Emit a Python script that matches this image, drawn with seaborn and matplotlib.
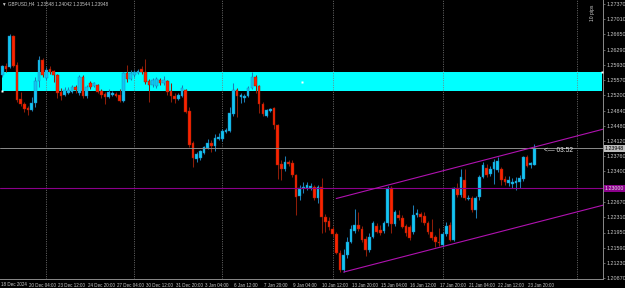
import numpy as np
import pandas as pd
import matplotlib
matplotlib.use("Agg")
import matplotlib.pyplot as plt
import matplotlib.transforms as mtransforms
from matplotlib.patches import Rectangle
import seaborn as sns

# ---------------- data (GBPUSD H4) ----------------
opens = [1.2569, 1.2590, 1.2588, 1.2661, 1.2592, 1.2512, 1.2500, 1.2490, 1.2486, 1.2502,
         1.2554, 1.2604, 1.2561, 1.2583, 1.2578, 1.2569, 1.2528, 1.2521, 1.2526, 1.2528,
         1.2540, 1.2526, 1.2564, 1.2519, 1.2550, 1.2543, 1.2545, 1.2531, 1.2524, 1.2517,
         1.2521, 1.2524, 1.2521, 1.2507, 1.2573, 1.2559, 1.2569, 1.2573, 1.2583, 1.2576,
         1.2554, 1.2545, 1.2543, 1.2557, 1.2550, 1.2554, 1.2531, 1.2519, 1.2512, 1.2519,
         1.2533, 1.2483, 1.2407, 1.2369, 1.2372, 1.2384, 1.2396, 1.2407, 1.2400, 1.2417,
         1.2417, 1.2433, 1.2436, 1.2476, 1.2533, 1.2517, 1.2514, 1.2519, 1.2538, 1.2564,
         1.2543, 1.2500, 1.2471, 1.2483, 1.2490, 1.2450, 1.2357, 1.2346, 1.2362, 1.2360,
         1.2331, 1.2282, 1.2301, 1.2301, 1.2301, 1.2303, 1.2277, 1.2303, 1.2232, 1.2222,
         1.2203, 1.2191, 1.2146, 1.2106, 1.2142, 1.2172, 1.2199, 1.2213, 1.2203, 1.2180,
         1.2154, 1.2184, 1.2210, 1.2201, 1.2199, 1.2218, 1.2301, 1.2215, 1.2237, 1.2229,
         1.2210, 1.2208, 1.2196, 1.2237, 1.2239, 1.2234, 1.2218, 1.2196, 1.2184, 1.2172,
         1.2165, 1.2191, 1.2213, 1.2177, 1.2301, 1.2284, 1.2320, 1.2274, 1.2277, 1.2248,
         1.2279, 1.2327, 1.2348, 1.2334, 1.2346, 1.2343, 1.2346, 1.2322, 1.2312, 1.2310,
         1.2312, 1.2315, 1.2322, 1.2374, 1.2355, 1.23548]
highs = [1.2592, 1.2597, 1.2666, 1.2664, 1.2599, 1.2528, 1.2505, 1.2495, 1.2517, 1.2564,
         1.2614, 1.2609, 1.2588, 1.2590, 1.2581, 1.2571, 1.2538, 1.2540, 1.2540, 1.2545,
         1.2545, 1.2569, 1.2569, 1.2545, 1.2554, 1.2552, 1.2547, 1.2535, 1.2528, 1.2535,
         1.2531, 1.2528, 1.2535, 1.2576, 1.2592, 1.2581, 1.2581, 1.2583, 1.2590, 1.2607,
         1.2559, 1.2561, 1.2564, 1.2561, 1.2566, 1.2557, 1.2550, 1.2526, 1.2526, 1.2545,
         1.2535, 1.2493, 1.2412, 1.2386, 1.2391, 1.2400, 1.2417, 1.2414, 1.2429, 1.2431,
         1.2440, 1.2443, 1.2493, 1.2550, 1.2538, 1.2526, 1.2524, 1.2543, 1.2576, 1.2569,
         1.2545, 1.2505, 1.2488, 1.2490, 1.2493, 1.2452, 1.2367, 1.2376, 1.2367, 1.2367,
         1.2334, 1.2308, 1.2315, 1.2315, 1.2312, 1.2308, 1.2308, 1.2324, 1.2239, 1.2232,
         1.2210, 1.2196, 1.2154, 1.2156, 1.2184, 1.2213, 1.2251, 1.2244, 1.2210, 1.2187,
         1.2194, 1.2222, 1.2218, 1.2213, 1.2222, 1.2305, 1.2305, 1.2248, 1.2248, 1.2237,
         1.2215, 1.2213, 1.2260, 1.2251, 1.2244, 1.2244, 1.2222, 1.2227, 1.2189, 1.2206,
         1.2196, 1.2220, 1.2220, 1.2303, 1.2312, 1.2346, 1.2346, 1.2284, 1.2282, 1.2282,
         1.2331, 1.2362, 1.2357, 1.2353, 1.2369, 1.2374, 1.2350, 1.2329, 1.2329, 1.2324,
         1.2327, 1.2331, 1.2376, 1.2379, 1.2362, 1.24042]
lows = [1.2564, 1.2576, 1.2585, 1.2588, 1.2505, 1.2495, 1.2481, 1.2474, 1.2483, 1.2493,
        1.2540, 1.2564, 1.2557, 1.2571, 1.2552, 1.2514, 1.2509, 1.2519, 1.2524, 1.2526,
        1.2526, 1.2521, 1.2514, 1.2514, 1.2535, 1.2540, 1.2526, 1.2514, 1.2500, 1.2514,
        1.2519, 1.2517, 1.2505, 1.2505, 1.2552, 1.2557, 1.2564, 1.2571, 1.2571, 1.2547,
        1.2505, 1.2540, 1.2538, 1.2545, 1.2545, 1.2521, 1.2505, 1.2502, 1.2509, 1.2517,
        1.2478, 1.2398, 1.2350, 1.2362, 1.2367, 1.2381, 1.2393, 1.2386, 1.2388, 1.2414,
        1.2412, 1.2431, 1.2433, 1.2471, 1.2469, 1.2502, 1.2505, 1.2517, 1.2535, 1.2526,
        1.2478, 1.2471, 1.2469, 1.2481, 1.2440, 1.2322, 1.2320, 1.2341, 1.2353, 1.2327,
        1.2237, 1.2272, 1.2289, 1.2296, 1.2296, 1.2272, 1.2265, 1.2194, 1.2196, 1.2201,
        1.2187, 1.2144, 1.2101, 1.2101, 1.2135, 1.2170, 1.2194, 1.2199, 1.2172, 1.2139,
        1.2149, 1.2182, 1.2194, 1.2189, 1.2194, 1.2210, 1.2194, 1.2210, 1.2225, 1.2206,
        1.2187, 1.2177, 1.2191, 1.2232, 1.2220, 1.2213, 1.2191, 1.2177, 1.2161, 1.2163,
        1.2161, 1.2187, 1.2175, 1.2175, 1.2279, 1.2279, 1.2272, 1.2272, 1.2244, 1.2229,
        1.2272, 1.2324, 1.2327, 1.2329, 1.2310, 1.2339, 1.2308, 1.2308, 1.2305, 1.2301,
        1.2296, 1.2301, 1.2317, 1.2350, 1.2348, 1.23544]
closes = [1.2590, 1.2583, 1.2661, 1.2590, 1.2509, 1.2500, 1.2488, 1.2486, 1.2502, 1.2554,
          1.2604, 1.2569, 1.2581, 1.2576, 1.2569, 1.2526, 1.2519, 1.2533, 1.2533, 1.2540,
          1.2533, 1.2564, 1.2519, 1.2540, 1.2540, 1.2550, 1.2528, 1.2521, 1.2517, 1.2528,
          1.2526, 1.2519, 1.2507, 1.2573, 1.2559, 1.2573, 1.2576, 1.2578, 1.2576, 1.2552,
          1.2545, 1.2557, 1.2559, 1.2550, 1.2557, 1.2528, 1.2519, 1.2512, 1.2521, 1.2538,
          1.2481, 1.2403, 1.2372, 1.2381, 1.2388, 1.2398, 1.2407, 1.2400, 1.2419, 1.2422,
          1.2436, 1.2438, 1.2478, 1.2533, 1.2519, 1.2521, 1.2519, 1.2538, 1.2564, 1.2543,
          1.2500, 1.2476, 1.2486, 1.2488, 1.2450, 1.2355, 1.2346, 1.2362, 1.2357, 1.2331,
          1.2279, 1.2301, 1.2303, 1.2308, 1.2305, 1.2277, 1.2303, 1.2232, 1.2220, 1.2208,
          1.2191, 1.2146, 1.2106, 1.2142, 1.2172, 1.2203, 1.2213, 1.2203, 1.2177, 1.2154,
          1.2184, 1.2218, 1.2196, 1.2194, 1.2218, 1.2301, 1.2215, 1.2244, 1.2229, 1.2208,
          1.2194, 1.2182, 1.2237, 1.2241, 1.2232, 1.2218, 1.2196, 1.2182, 1.2172, 1.2170,
          1.2191, 1.2210, 1.2177, 1.2301, 1.2284, 1.2327, 1.2277, 1.2277, 1.2248, 1.2277,
          1.2327, 1.2355, 1.2331, 1.2346, 1.2362, 1.2365, 1.2320, 1.2315, 1.2320, 1.2315,
          1.2317, 1.2324, 1.2374, 1.2353, 1.2360, 1.23948]

first_label = "18 Dec 2024"
time_labels = ["20 Dec 04:00", "23 Dec 12:00", "24 Dec 20:00", "27 Dec 04:00",
               "30 Dec 12:00", "31 Dec 20:00", "3 Jan 04:00", "6 Jan 12:00",
               "7 Jan 20:00", "9 Jan 04:00", "10 Jan 12:00", "13 Jan 20:00",
               "15 Jan 04:00", "16 Jan 12:00", "17 Jan 20:00", "21 Jan 04:00",
               "22 Jan 12:00", "23 Jan 20:00"]
time_label_bars = [7 + 8 * k for k in range(len(time_labels))]
price_ticks = [1.27370, 1.27010, 1.26650, 1.26290, 1.25930, 1.25570, 1.25200,
               1.24840, 1.24480, 1.24120, 1.23760, 1.23400, 1.22670, 1.22310,
               1.21950, 1.21590, 1.21230, 1.20870]
week_separators = [12, 36, 60, 90, 120, 156.6]

bid_price = 1.23948
level_price = 1.23000
zone_top, zone_bottom = 1.25757, 1.25306
zone_start, zone_end = 0, 163.4
upper_channel_bars = [91, 145]
upper_channel_prices = [1.22756, 1.23977]
lower_channel_bars = [93, 145]
lower_channel_prices = [1.21011, 1.22178]

header = "\u25bc GBPUSD,H4  1.23548 1.24042 1.23544 1.23948"
countdown = "<\u2014 03:52"

# ---------------- style ----------------
sns.set_theme(style="dark", rc={"axes.facecolor": "black", "figure.facecolor": "black"})
plt.rcParams["font.family"] = ["Liberation Sans", "DejaVu Sans"]

BULL_BODY = "#12C6F2"
BULL_WICK = "#1C7DB4"
BEAR_BODY = "#FA2300"
BEAR_WICK = "#8E1D08"
AXIS_C = "#8A8A8A"
TXT_C = "#C8C8C8"

fig = plt.figure(figsize=(6.25, 2.88), dpi=100)
ax = fig.add_axes([0, 9 / 288, 603 / 625, 279 / 288])
ax.set_facecolor("black")
XMIN, XMAX = -0.63, 163.7
ax.set_xlim(XMIN, XMAX)
ax.set_ylim(1.20847, 1.27465)

df = pd.DataFrame({"o": opens, "h": highs, "l": lows, "c": closes})
df["i"] = np.arange(len(df))
bull = df["c"] >= df["o"]

# zone rectangle (background)
ax.add_patch(Rectangle((zone_start, zone_bottom), zone_end - zone_start, zone_top - zone_bottom,
                       facecolor="#00FFFF", edgecolor="none", zorder=1))

# week separators
for s in week_separators:
    ax.axvline(s, color="#7A7A7A", lw=0.6, ls=(0, (1.2, 1.6)), zorder=1.5)

# candles
wick_cols = np.where(bull, BULL_WICK, BEAR_WICK)
body_cols = np.where(bull, BULL_BODY, BEAR_BODY)
ax.vlines(df["i"], df["l"], df["h"], colors=wick_cols, lw=0.75, zorder=2)
bottoms = np.minimum(df["o"], df["c"])
heights = np.maximum((df["c"] - df["o"]).abs(), 0.00006)
ax.bar(df["i"], heights, bottom=bottoms, width=0.72, color=body_cols,
       edgecolor=wick_cols, linewidth=0.3, zorder=3)

# horizontal lines
ax.axhline(bid_price, color="#8C8C8C", lw=0.7, zorder=4)
ax.axhline(level_price, color="#8B008B", lw=0.8, zorder=4)

# channel rays (extended to the right edge)
def ray(bars, prices):
    slope = (prices[1] - prices[0]) / (bars[1] - bars[0])
    xs = [bars[0], XMAX + 1]
    ys = [prices[0], prices[0] + slope * (XMAX + 1 - bars[0])]
    return pd.DataFrame({"x": xs, "y": ys})

for bars_, prices_ in [(upper_channel_bars, upper_channel_prices),
                       (lower_channel_bars, lower_channel_prices)]:
    sns.lineplot(data=ray(bars_, prices_), x="x", y="y", ax=ax, color="#B012B0",
                 lw=0.8, zorder=4, estimator=None, sort=False)

# zone anchor markers
ax.plot([zone_start, zone_end, (zone_start + zone_end) / 2],
        [zone_bottom, zone_top, (zone_top + zone_bottom) / 2],
        ls="none", marker="s", ms=1.6, mfc="white", mec="none", zorder=5, clip_on=False)

# axes styling
for side in ["top", "left"]:
    ax.spines[side].set_visible(False)
for side in ["right", "bottom"]:
    ax.spines[side].set_color(AXIS_C)
    ax.spines[side].set_linewidth(0.7)
ax.grid(False)
ax.set_xlabel("")
ax.set_ylabel("")

ax.yaxis.tick_right()
ax.set_yticks(price_ticks)
ax.set_yticklabels([f"{v:.5f}" for v in price_ticks])
ax.tick_params(axis="y", colors=AXIS_C, labelcolor=TXT_C, labelsize=3.9,
               length=1.5, width=0.5, pad=0.8, direction="out")

ax.set_xticks(time_label_bars)
ax.set_xticklabels(time_labels)
ax.tick_params(axis="x", colors=AXIS_C, labelcolor=TXT_C, labelsize=3.25,
               length=2, width=0.5, pad=0.6, direction="out")
offset = mtransforms.ScaledTranslation(0.8 / 100, 0, fig.dpi_scale_trans)
for lab in ax.get_xticklabels():
    lab.set_horizontalalignment("left")
    lab.set_transform(lab.get_transform() + offset)

ax.text(0.0015, -0.009, first_label, transform=ax.transAxes, ha="left", va="top",
        fontsize=3.25, color=TXT_C)

# price boxes on the right axis
ybl = mtransforms.blended_transform_factory(ax.transAxes, ax.transData)
ax.text(1.003, bid_price, f"{bid_price:.5f}", transform=ybl, ha="left", va="center",
        fontsize=3.8, color="black", clip_on=False, zorder=6,
        bbox=dict(boxstyle="square,pad=0.2", fc="#BDBDBD", ec="none"))
ax.text(1.003, level_price, f"{level_price:.5f}", transform=ybl, ha="left", va="center",
        fontsize=3.8, color="#E6E6E6", clip_on=False, zorder=6,
        bbox=dict(boxstyle="square,pad=0.2", fc="#8B008B", ec="none"))

# header and annotations
ax.text(0.003, 0.996, header, transform=ax.transAxes, ha="left", va="top",
        fontsize=3.3, color=TXT_C)
ax.text(147.6, bid_price - 0.0005, countdown, ha="left", va="center",
        fontsize=4.8, color="#E8E8E8", zorder=6)
ax.text(0.982, 0.985, "10 pips", transform=ax.transAxes, ha="center", va="top",
        rotation=90, fontsize=3.6, color="#D0D0D0")

fig.savefig("out.png", dpi=100, facecolor="black")
